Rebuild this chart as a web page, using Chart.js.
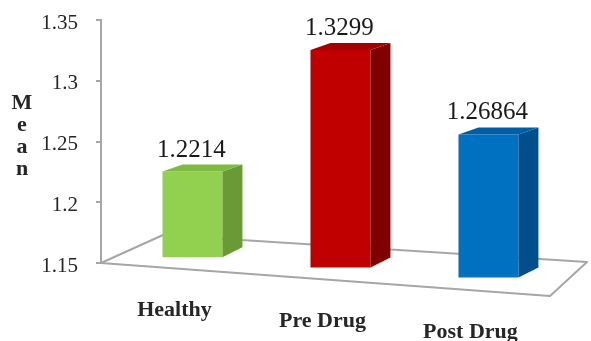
<!DOCTYPE html>
<html>
<head>
<meta charset="utf-8">
<script src="https://cdn.jsdelivr.net/npm/chart.js@4/dist/chart.umd.min.js"></script>
<style>
  html, body { margin: 0; padding: 0; background: #ffffff; }
  #wrap { width: 591px; height: 341px; position: relative; }
</style>
</head>
<body>
<div id="wrap"><canvas id="c"></canvas></div>
<script>
// Group means shown as 3D columns
const categories = ['Healthy', 'Pre Drug', 'Post Drug'];
const means = [1.2214, 1.3299, 1.26864];
const valueLabels = ['1.2214', '1.3299', '1.26864'];
const yTickLabels = ['1.15', '1.2', '1.25', '1.3', '1.35'];
const axisTitle = 'Mean';

// Face colours: front, right side and top of each column
const frontColors = ['#92d050', '#c00000', '#0070c0'];
const sideColors  = ['#6a9a35', '#7e0000', '#004f8c'];
const topColors   = ['#7fbb42', '#a30000', '#005ea6'];

const SERIF = '"Liberation Serif", "Times New Roman", serif';
const FLOOR_SLOPE = 0.0735;   // tilt of the floor's front edge
const BAR_SLOPE = 0.0684;     // how far each column sinks along the floor
const DEPTH_X = 20, DEPTH_TOP = -7, DEPTH_BOTTOM = -10;

const column3d = {
  id: 'column3d',
  afterDatasetsUpdate(chart) {
    const area = chart.chartArea;
    chart.getDatasetMeta(0).data.forEach(el => {
      const d = (el.x - area.left) * BAR_SLOPE - 10.9;
      el.y += d;
      el.base += d;
    });
  },
  beforeDatasetsDraw(chart) {
    const ctx = chart.ctx;
    const xl = chart.chartArea.left;
    const yb = chart.scales.y.getPixelForValue(1.15);
    ctx.save();
    ctx.beginPath();
    ctx.moveTo(xl, yb);
    ctx.lineTo(xl + 449, yb + 449 * FLOOR_SLOPE);
    ctx.lineTo(xl + 486, yb - 1);
    ctx.lineTo(xl + 62, yb - 28);
    ctx.closePath();
    ctx.fillStyle = '#ffffff';
    ctx.fill();
    ctx.strokeStyle = '#a6a6a6';
    ctx.lineWidth = 2;
    ctx.lineJoin = 'round';
    ctx.stroke();
    ctx.restore();
  },
  afterDatasetsDraw(chart) {
    const ctx = chart.ctx;
    const xl = chart.chartArea.left;
    const yb = chart.scales.y.getPixelForValue(1.15);
    ctx.save();
    chart.getDatasetMeta(0).data.forEach((el, i) => {
      const L = el.x - el.width / 2, R = el.x + el.width / 2;
      const T = el.y, B = el.base;
      // right side face
      ctx.beginPath();
      ctx.moveTo(R, T);
      ctx.lineTo(R + DEPTH_X, T + DEPTH_TOP);
      ctx.lineTo(R + DEPTH_X, B + DEPTH_BOTTOM);
      ctx.lineTo(R, B);
      ctx.closePath();
      ctx.fillStyle = sideColors[i];
      ctx.fill();
      // top face
      ctx.beginPath();
      ctx.moveTo(L, T);
      ctx.lineTo(R, T);
      ctx.lineTo(R + DEPTH_X, T + DEPTH_TOP);
      ctx.lineTo(L + DEPTH_X, T + DEPTH_TOP);
      ctx.closePath();
      ctx.fillStyle = topColors[i];
      ctx.fill();

      // value above the column
      ctx.fillStyle = '#1a1a1a';
      ctx.font = '25px ' + SERIF;
      ctx.textAlign = 'center';
      ctx.textBaseline = 'alphabetic';
      ctx.fillText(valueLabels[i], el.x - 1, T - 15);

      // category name under the floor's front edge
      const cx = el.x - 18;
      ctx.font = 'bold 22px ' + SERIF;
      ctx.fillStyle = '#262626';
      ctx.fillText(categories[i], cx, yb + (cx - xl) * FLOOR_SLOPE + 48);
    });

    // stacked axis title
    ctx.font = 'bold 22px ' + SERIF;
    ctx.fillStyle = '#262626';
    ctx.textAlign = 'center';
    axisTitle.split('').forEach((ch, k) => {
      ctx.fillText(ch, 22, 109 + k * 22);
    });
    ctx.restore();
  }
};

new Chart(document.getElementById('c'), {
  type: 'bar',
  data: {
    datasets: [{
      data: categories.map((c, i) => ({ x: i, y: means[i] })),
      base: 1.15,
      backgroundColor: frontColors,
      borderWidth: 0,
      barPercentage: 0.405,
      categoryPercentage: 1,
      clip: false
    }]
  },
  options: {
    responsive: true,
    maintainAspectRatio: false,
    animation: false,
    events: [],
    layout: { padding: { top: 20, bottom: 78, left: 0, right: 0 } },
    plugins: { legend: { display: false }, tooltip: { enabled: false } },
    scales: {
      x: {
        type: 'linear',
        display: false,
        offset: false,
        min: -0.618,
        max: 2.693,
        ticks: { stepSize: 1, includeBounds: false }
      },
      y: {
        min: 1.15,
        max: 1.35,
        afterFit(scale) {
          scale.width = 101;
          scale.paddingTop = 0;
          scale.paddingBottom = 0;
        },
        ticks: {
          stepSize: 0.05,
          padding: 18,
          labelOffset: 3,
          color: '#262626',
          font: { family: SERIF, size: 21 },
          callback: (v, i) => yTickLabels[i]
        },
        grid: {
          drawOnChartArea: false,
          drawTicks: true,
          tickLength: 5,
          color: '#a6a6a6',
          lineWidth: 2
        },
        border: { display: true, color: '#a6a6a6', width: 2 }
      }
    }
  },
  plugins: [column3d]
});
</script>
</body>
</html>
